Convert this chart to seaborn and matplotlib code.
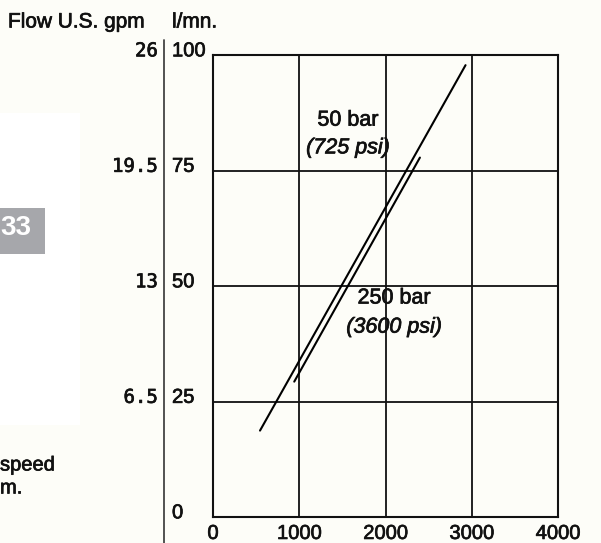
import matplotlib
matplotlib.use("Agg")
import matplotlib.pyplot as plt
import matplotlib.patheffects as pe
import seaborn as sns
import pandas as pd
from matplotlib.lines import Line2D
from matplotlib.patches import Rectangle

# ---- data ----
speed_50bar = [545, 2928]      # rpm
flow_50bar = [18.7, 97.8]      # l/mn
speed_250bar = [942, 2399]
flow_250bar = [29.3, 77.8]
x_ticks = [0, 1000, 2000, 3000, 4000]
lpm_ticks = [0, 25, 50, 75, 100]
gpm_labels = ["", "6.5", "13", "19.5", "26"]
label_50 = ["50 bar", "(725 psi)"]
label_250 = ["250 bar", "(3600 psi)"]

W, H = 601, 543
sns.set_theme(style="white")
plt.rcParams["font.family"] = ["Liberation Sans", "DejaVu Sans"]

INK = "#111111"
thick = [pe.withStroke(linewidth=0.5, foreground=INK)]

fig = plt.figure(figsize=(W / 100, H / 100), dpi=100)
BG = "#fdfdf8"
fig.patch.set_facecolor(BG)

def fx(px):
    return px / W

def fy(py):
    return 1 - py / H

ax = fig.add_axes([fx(213), fy(517), fx(558) - fx(213), fy(55) - fy(517)])
ax.set_facecolor(BG)

df = pd.concat([
    pd.DataFrame({"speed": speed_50bar, "flow": flow_50bar, "p": "50"}),
    pd.DataFrame({"speed": speed_250bar, "flow": flow_250bar, "p": "250"}),
])
sns.lineplot(data=df, x="speed", y="flow", units="p", estimator=None,
             color="black", lw=1.5, ax=ax, legend=False)

ax.set_xlim(0, 4000)
ax.set_ylim(0, 100)
ax.set_xticks(x_ticks)
ax.set_yticks(lpm_ticks)
ax.grid(True, color=INK, lw=1.3)
for s in ax.spines.values():
    s.set_visible(True)
    s.set_color(INK)
    s.set_linewidth(1.5)
ax.tick_params(axis="both", length=0)
ax.set_xticklabels([str(v) for v in x_ticks], fontsize=14.5, color=INK)
for t in ax.get_xticklabels():
    t.set_path_effects(thick)
ax.tick_params(axis="x", pad=5)
ax.set_yticklabels([])
ax.set_xlabel("")
ax.set_ylabel("")

# y labels (l/mn and gpm)
trans = matplotlib.transforms.blended_transform_factory(fig.transFigure, ax.transData)
for v, g in zip(lpm_ticks, gpm_labels):
    ax.text(fx(172), v + 0.9, str(v), transform=trans, ha="left", va="center",
            fontsize=14.5, color=INK, clip_on=False, path_effects=thick)
    if g:
        ax.text(fx(158), v + 0.9, g, transform=trans, ha="right", va="center",
                fontsize=13.7, family="DejaVu Sans Mono", color=INK, clip_on=False,
                path_effects=thick)

# separator line between scales
fig.add_artist(Line2D([fx(164), fx(164)], [fy(40), fy(543)], color="#444444", lw=1.3))

# headers
fig.text(fx(8), fy(22), "Flow U.S. gpm", ha="left", va="center", fontsize=15,
         color=INK, path_effects=thick)
fig.text(fx(172), fy(22), "l/mn.", ha="left", va="center", fontsize=15,
         color=INK, path_effects=thick)

# pressure labels
ax.text(1565, 85.9, label_50[0], ha="center", va="center", fontsize=15.5, color=INK,
        path_effects=thick)
ax.text(1565, 79.9, label_50[1], ha="center", va="center", fontsize=15.5, style="italic",
        color=INK, path_effects=thick)
ax.text(2100, 47.4, label_250[0], ha="center", va="center", fontsize=15.5, color=INK,
        path_effects=thick)
ax.text(2100, 41.1, label_250[1], ha="center", va="center", fontsize=15.5, style="italic",
        color=INK, path_effects=thick)

# cropped page elements on the left
fig.add_artist(Rectangle((0, fy(425)), fx(80), fy(113) - fy(425), transform=fig.transFigure,
                         facecolor="white", edgecolor="none", zorder=0))
fig.add_artist(Rectangle((0, fy(254)), fx(45), fy(208) - fy(254), transform=fig.transFigure,
                         facecolor="#a6a7ab", edgecolor="none", zorder=1))
fig.text(fx(0), fy(228), "33", ha="left", va="center", fontsize=20, color="white",
         weight="bold", zorder=2)
fig.text(fx(0), fy(465), "speed", ha="left", va="center", fontsize=14.5, color=INK,
         path_effects=thick)
fig.text(fx(0), fy(488), "m.", ha="left", va="center", fontsize=14.5, color=INK,
         path_effects=thick)

fig.savefig("out.png", dpi=100, facecolor=BG)
